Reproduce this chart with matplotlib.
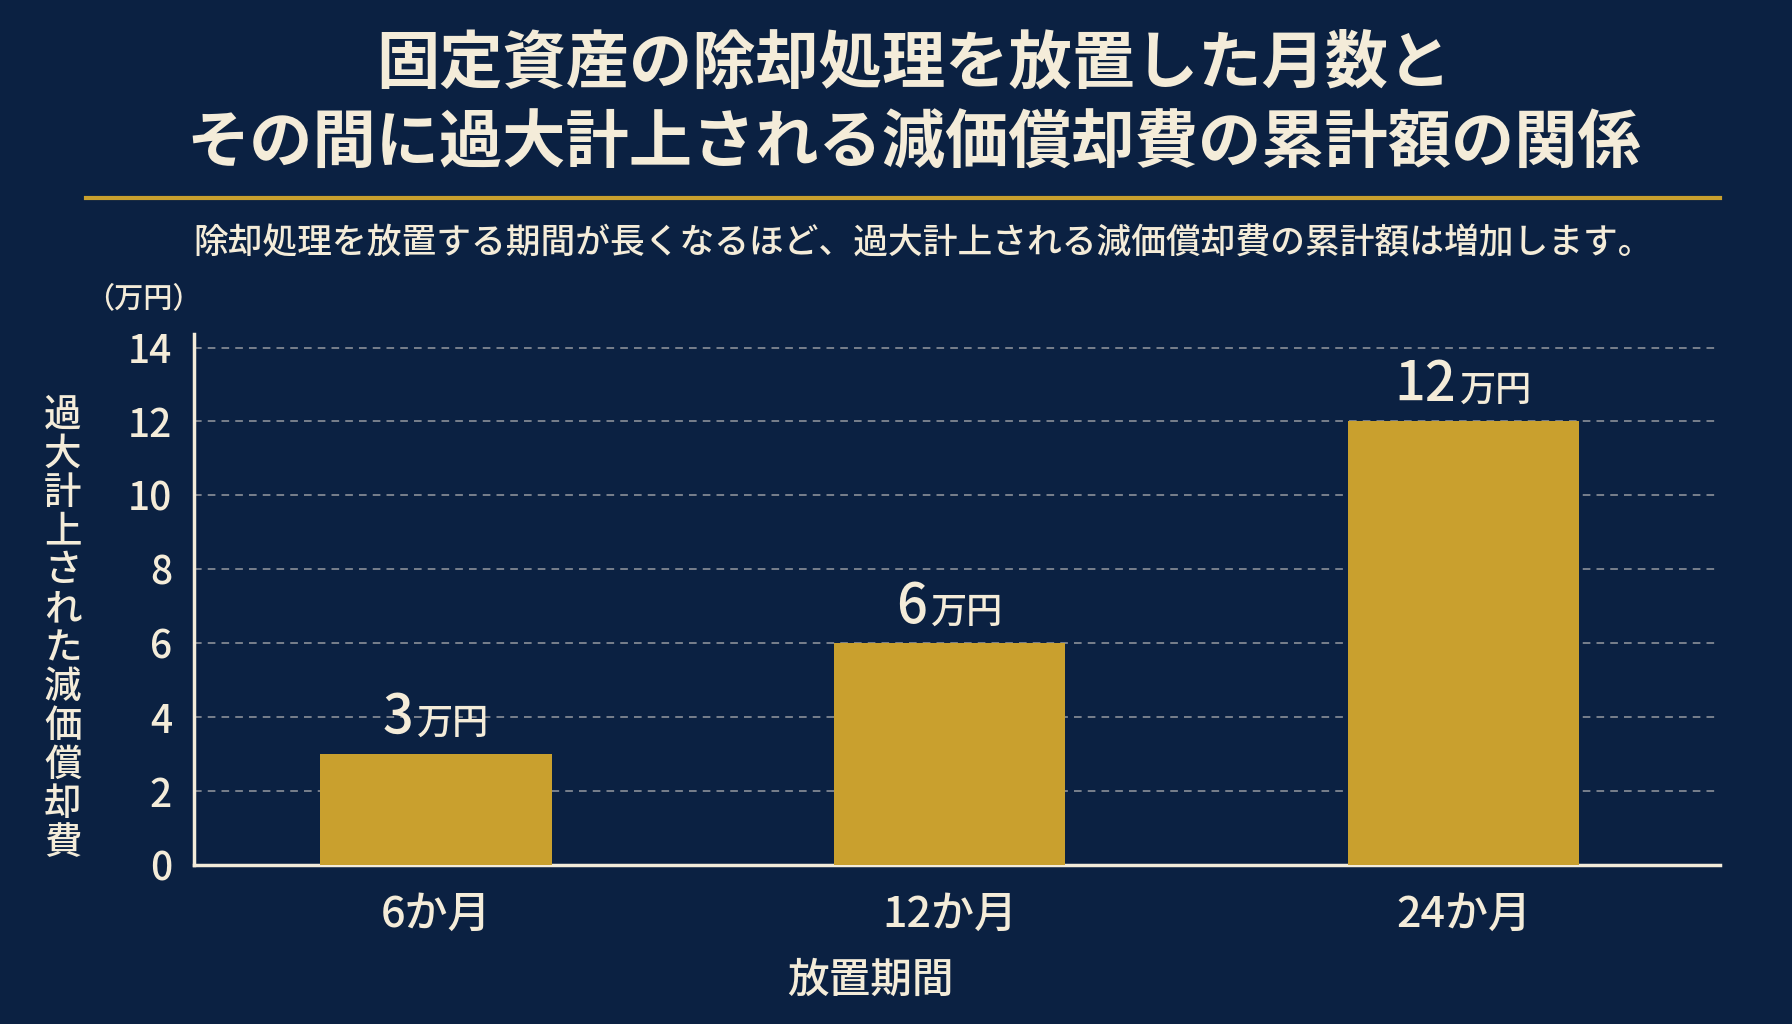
import matplotlib
matplotlib.use("Agg")
import matplotlib.pyplot as plt
from matplotlib.offsetbox import TextArea, HPacker, AnnotationBbox

plt.rcParams['font.family'] = ['Noto Sans CJK JP', 'DejaVu Sans']

# データ
periods = ["6か月", "12か月", "24か月"]
amounts = [3, 6, 12]
value_labels = ["3", "6", "12"]
yticks = [0, 2, 4, 6, 8, 10, 12, 14]

title_text = "固定資産の除却処理を放置した月数と\nその間に過大計上される減価償却費の累計額の関係"
subtitle_text = "除却処理を放置する期間が長くなるほど、過大計上される減価償却費の累計額は増加します。"
ylabel_text = "過大計上された減価償却費"
unit_text = "（万円）"
xlabel_text = "放置期間"

BG = "#0b2142"
GOLD = "#c9a02e"
CREAM = "#f4ecd9"

fig = plt.figure(figsize=(17.92, 10.24), dpi=100, facecolor=BG)
ax = fig.add_axes([0.1085, 0.155, 0.8515, 0.519], facecolor=BG)

x = range(len(periods))
ax.bar(x, amounts, width=0.45, color=GOLD, zorder=3)

ax.set_xlim(-0.47, 2.5)
ax.set_ylim(0, 14.37)
ax.set_yticks(yticks)
ax.set_yticklabels([str(t) for t in yticks], fontweight="medium")
ax.set_xticks(list(x))
ax.set_xticklabels(periods, fontweight="medium")

ax.tick_params(axis='y', length=0, pad=16, labelsize=28, labelcolor=CREAM)
ax.tick_params(axis='x', length=0, pad=20, labelsize=31, labelcolor=CREAM)

ax.grid(axis='y', color="#b8b8b8", linestyle=(0, (5, 4)), linewidth=1.1, alpha=0.8, zorder=1)
for side in ["top", "right"]:
    ax.spines[side].set_visible(False)
for side in ["left", "bottom"]:
    ax.spines[side].set_color(CREAM)
    ax.spines[side].set_linewidth(2.5)

# 棒の上の値ラベル(数字 + 万円)
for xi, val, lab in zip(x, amounts, value_labels):
    num = TextArea(lab, textprops=dict(color=CREAM, fontsize=39, fontweight="medium"))
    unit = TextArea("万円", textprops=dict(color=CREAM, fontsize=26, fontweight="medium"))
    box = HPacker(children=[num, unit], align="baseline", pad=0, sep=3)
    ab = AnnotationBbox(box, (xi, val), xybox=(0, 6), xycoords='data',
                        boxcoords="offset points", box_alignment=(0.5, 0),
                        frameon=False, zorder=4)
    ax.add_artist(ab)

# タイトル・サブタイトル
fig.text(0.51, 0.898, title_text, ha='center', va='center', fontsize=45.5,
         fontweight='bold', color=CREAM, linespacing=1.35)
fig.add_artist(plt.Line2D([0.048, 0.960], [0.807, 0.807], color=GOLD, linewidth=3))
fig.text(0.515, 0.763, subtitle_text, ha='center', va='center', fontsize=25,
         fontweight="medium", color=CREAM)

# 軸ラベル
fig.text(0.080, 0.708, unit_text, ha='center', va='center', fontsize=21,
         fontweight="medium", color=CREAM)
fig.text(0.035, 0.386, "\n".join(ylabel_text), ha='center', va='center', fontsize=27,
         fontweight="medium", color=CREAM, linespacing=1.03)
fig.text(0.486, 0.043, xlabel_text, ha='center', va='center', fontsize=30,
         fontweight="medium", color=CREAM)

fig.savefig("out.png", dpi=100, facecolor=BG)
